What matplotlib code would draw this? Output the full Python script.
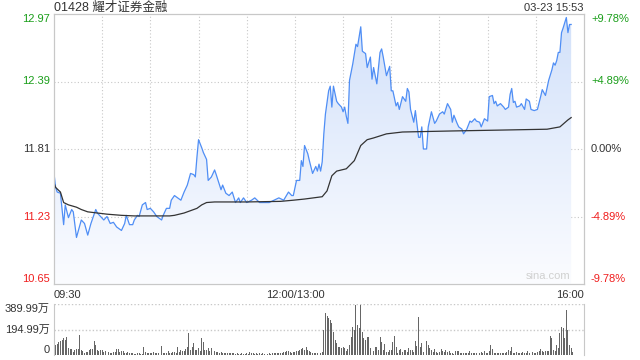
import numpy as np
import matplotlib
matplotlib.use("Agg")
import matplotlib.pyplot as plt
from matplotlib.patches import Polygon
from matplotlib.colors import LinearSegmentedColormap

plt.rcParams['font.family'] = ['Liberation Sans', 'Noto Sans CJK SC']

# trading minutes after 09:30 (lunch skipped, 150 = 12:00/13:00)
price_min = [0, 1, 2, 4, 6, 7, 9, 11, 12, 14, 17, 19, 21, 23, 26, 27, 29, 31, 33, 35,
             37, 39, 42, 44, 45, 47, 49, 50, 52, 53, 55, 57, 58, 60, 62, 64, 67, 68, 70, 72,
             73, 75, 77, 79, 81, 83, 85, 87, 88, 89, 90, 92, 93, 95, 96, 98, 100, 101, 104, 105,
             107, 109, 111, 113, 115, 116, 118, 120, 123, 125, 128, 131, 134, 137, 140, 143, 146, 148, 149, 151,
             153, 154, 155, 156, 158, 159, 161, 163, 164, 165, 166, 167, 168, 169, 171, 172, 173, 174, 176, 177,
             179, 180, 181, 182, 183, 184, 186, 188, 189, 191, 192, 194, 195, 197, 198, 199, 201, 203, 204, 205,
             207, 209, 210, 211, 213, 214, 215, 217, 219, 220, 221, 222, 224, 225, 227, 228, 229, 230, 232, 233,
             235, 237, 238, 240, 242, 243, 245, 247, 248, 249, 251, 252, 254, 255, 257, 259, 260, 262, 263, 265,
             266, 268, 270, 271, 273, 274, 275, 276, 278, 280, 281, 283, 284, 285, 286, 287, 288, 290, 291, 293,
             294, 296, 297, 299, 301, 303, 304, 306, 308, 310, 311, 312, 313, 314, 315, 316, 317, 319, 320, 321,
             322]
price = [11.60, 11.48, 11.44, 11.43, 11.16, 11.33, 11.22, 11.29, 11.27, 11.05, 11.20, 11.17, 11.07, 11.17, 11.29, 11.26, 11.23, 11.20, 11.23, 11.17,
         11.18, 11.14, 11.11, 11.17, 11.24, 11.16, 11.16, 11.20, 11.24, 11.23, 11.33, 11.35, 11.29, 11.30, 11.27, 11.23, 11.20, 11.24, 11.30, 11.30,
         11.37, 11.41, 11.39, 11.37, 11.44, 11.50, 11.60, 11.59, 11.57, 11.74, 11.89, 11.82, 11.78, 11.72, 11.54, 11.57, 11.63, 11.59, 11.46, 11.50,
         11.43, 11.41, 11.44, 11.35, 11.39, 11.35, 11.39, 11.35, 11.37, 11.39, 11.35, 11.35, 11.35, 11.37, 11.39, 11.37, 11.44, 11.41, 11.41, 11.54,
         11.54, 11.71, 11.66, 11.84, 11.77, 11.71, 11.60, 11.66, 11.62, 11.68, 11.62, 11.70, 11.94, 12.11, 12.31, 12.35, 12.17, 12.35, 12.22, 12.20,
         12.17, 12.13, 12.17, 12.09, 12.03, 12.40, 12.54, 12.71, 12.69, 12.86, 12.65, 12.63, 12.51, 12.60, 12.41, 12.51, 12.37, 12.64, 12.67, 12.60,
         12.44, 12.52, 12.31, 12.31, 12.18, 12.21, 12.15, 12.26, 12.22, 12.33, 12.30, 12.15, 12.04, 12.14, 11.91, 11.91, 12.00, 11.81, 11.81, 12.00,
         12.13, 12.03, 12.05, 12.11, 12.13, 12.11, 12.20, 12.15, 12.04, 12.10, 12.03, 12.00, 11.98, 11.94, 11.98, 12.05, 12.04, 12.07, 12.05, 12.04,
         12.00, 12.07, 12.05, 12.26, 12.27, 12.20, 12.22, 12.18, 12.20, 12.17, 12.15, 12.17, 12.28, 12.33, 12.21, 12.22, 12.17, 12.18, 12.20, 12.15,
         12.24, 12.22, 12.15, 12.14, 12.15, 12.26, 12.32, 12.27, 12.40, 12.49, 12.55, 12.53, 12.57, 12.64, 12.64, 12.81, 12.85, 12.94, 12.81, 12.88,
         12.88]

avg_min = [0, 1, 4, 6, 9, 14, 17, 21, 27, 33, 42, 50, 72, 75, 81, 85, 89, 92, 95, 100,
           110, 120, 141, 149, 156, 167, 170, 173, 176, 182, 187, 191, 195, 199, 207, 217, 248, 280, 307, 315,
           320, 322]
avg_price = [11.52, 11.48, 11.44, 11.35, 11.33, 11.31, 11.29, 11.27, 11.26, 11.25, 11.24, 11.235, 11.235, 11.24, 11.26, 11.28, 11.30, 11.33, 11.35, 11.355,
             11.355, 11.355, 11.36, 11.37, 11.38, 11.40, 11.45, 11.58, 11.62, 11.64, 11.71, 11.84, 11.89, 11.905, 11.94, 11.956, 11.965, 11.973, 11.98, 12.00,
             12.06, 12.08]

# volume per minute, 万股
volume = [70, 76, 84, 102, 110, 118, 127, 115, 140, 51, 43, 43, 25, 38, 43, 43, 153, 38, 33, 18,
          25, 25, 38, 43, 43, 110, 76, 38, 33, 38, 38, 25, 33, 20, 25, 18, 18, 25, 23, 43,
          43, 25, 33, 28, 18, 18, 25, 18, 13, 13, 8, 8, 13, 18, 8, 8, 59, 25, 18, 13,
          13, 18, 25, 13, 18, 18, 33, 69, 18, 13, 13, 28, 18, 13, 25, 25, 18, 59, 25, 38,
          28, 28, 43, 64, 166, 38, 64, 89, 38, 38, 51, 28, 127, 102, 38, 38, 51, 33, 51, 25,
          28, 23, 20, 18, 23, 18, 13, 13, 18, 13, 18, 13, 13, 8, 13, 8, 8, 13, 8, 8,
          13, 8, 23, 18, 13, 8, 13, 8, 13, 8, 13, 8, 13, 8, 13, 8, 13, 13, 18, 13,
          18, 13, 18, 20, 20, 28, 28, 20, 18, 20, 25, 28, 33, 38, 43, 51, 38, 64, 38, 28,
          23, 18, 18, 13, 13, 13, 13, 25, 191, 319, 300, 280, 268, 242, 178, 115, 89, 59, 59, 51,
          59, 56, 30, 43, 76, 140, 217, 191, 382, 229, 204, 382, 178, 127, 115, 140, 140, 51, 115, 30,
          64, 59, 38, 140, 102, 38, 84, 25, 25, 38, 38, 102, 145, 59, 18, 38, 43, 25, 38, 38,
          25, 51, 38, 38, 25, 110, 69, 293, 64, 89, 25, 107, 110, 76, 51, 38, 25, 43, 25, 18,
          25, 43, 33, 25, 38, 23, 28, 18, 13, 8, 33, 28, 30, 18, 13, 13, 13, 18, 13, 28,
          13, 18, 13, 18, 13, 18, 23, 18, 28, 18, 13, 30, 76, 43, 18, 18, 13, 13, 13, 13,
          18, 13, 25, 38, 30, 59, 13, 18, 25, 13, 18, 13, 20, 13, 18, 28, 13, 18, 23, 18,
          13, 23, 33, 43, 28, 23, 33, 28, 30, 145, 127, 38, 30, 76, 51, 166, 212, 204, 127, 344,
          191, 76, 51, 20]

y_ticks = [10.65, 11.23, 11.81, 12.39, 12.97]
y_labels = ['10.65', '11.23', '11.81', '12.39', '12.97']
pct_labels = ['-9.78%', '-4.89%', '0.00%', '+4.89%', '+9.78%']
x_ticks = [0, 150, 330]
x_labels = ['09:30', '12:00/13:00', '16:00']
vol_ticks = [0, 194.99, 389.99]
vol_labels = ['0', '194.99万', '389.99万']

GREEN = '#1a9e1a'
RED = '#f01e1e'
DARK = '#333333'
GRID = '#c8c8c8'
label_colors = [RED, RED, DARK, GREEN, GREEN]
label_va = ['bottom', 'center', 'center', 'center', 'top']

fig = plt.figure(figsize=(6.4, 3.6), dpi=100)
ax = fig.add_axes([54 / 640, 1 - 284 / 360, 530 / 640, 270 / 360])
axv = fig.add_axes([54 / 640, 1 - 355 / 360, 530 / 640, 51 / 360])

ymin, ymax = y_ticks[0], y_ticks[-1]

# gradient area under price line
verts = [(price_min[0], ymin)] + list(zip(price_min, price)) + [(price_min[-1], ymin)]
poly = Polygon(verts, closed=True, facecolor='none', edgecolor='none')
ax.add_patch(poly)
cmap = LinearSegmentedColormap.from_list('fill', ['#fbfcff', '#d2e1fa'])
grad = np.linspace(0, 1, 256).reshape(-1, 1)
im = ax.imshow(grad, aspect='auto', cmap=cmap, origin='lower',
               extent=[0, 330, ymin, ymax], zorder=1)
im.set_clip_path(poly)

ax.plot(price_min, price, color='#4f8ef5', lw=0.9, zorder=3)
ax.plot(avg_min, avg_price, color='#333333', lw=0.9, zorder=4)

ax.set_xlim(0, 330)
ax.set_ylim(ymin, ymax)

for xv in range(30, 330, 30):
    ax.axvline(xv, color=GRID, lw=0.8, ls=(0, (1, 2)), zorder=0)
for yv in y_ticks[1:-1]:
    ax.axhline(yv, color=GRID, lw=0.8, ls=(0, (1, 2)), zorder=0)

ax.set_yticks(y_ticks)
ax.set_yticklabels(y_labels, fontsize=8)
for t, c, va in zip(ax.get_yticklabels(), label_colors, label_va):
    t.set_color(c)
    t.set_va(va)
ax.tick_params(axis='y', length=0, pad=3)

ax.set_xticks(x_ticks)
ax.set_xticklabels(x_labels, fontsize=8, color=DARK)
ax.tick_params(axis='x', length=0, pad=4)
for t, ha in zip(ax.get_xticklabels(), ['left', 'center', 'right']):
    t.set_ha(ha)

ax2 = ax.twinx()
ax2.set_ylim(ymin, ymax)
ax2.set_yticks(y_ticks)
ax2.set_yticklabels(pct_labels, fontsize=8)
for t, c, va in zip(ax2.get_yticklabels(), label_colors, label_va):
    t.set_color(c)
    t.set_va(va)
ax2.tick_params(axis='y', length=0, pad=5)

for a in (ax, ax2):
    for s in a.spines.values():
        s.set_color(GRID)
        s.set_linewidth(0.8)

ax.text(0.975, 0.012, 'sina.com', transform=ax.transAxes, ha='right', va='bottom',
        fontsize=8, color='#d0d0d0', zorder=5)

fig.text(54 / 640, 1 - 8 / 360, '01428 耀才证券金融', ha='left', va='center',
         fontsize=9, color=DARK)
fig.text(584 / 640, 1 - 8 / 360, '03-23 15:53', ha='right', va='center',
         fontsize=8, color=DARK)

# volume panel
axv.bar(np.arange(len(volume)), volume, width=0.6, color='#666666', zorder=2)
axv.set_xlim(0, 330)
axv.set_ylim(0, vol_ticks[-1])
axv.set_xticks([])
axv.set_yticks(vol_ticks)
axv.set_yticklabels(vol_labels, fontsize=8, color=DARK)
for t, va in zip(axv.get_yticklabels(), ['bottom', 'center', 'top']):
    t.set_va(va)
axv.tick_params(axis='y', length=0, pad=3)
for yv in vol_ticks[1:]:
    axv.axhline(yv, color=GRID, lw=1.0, ls=(0, (1, 1.5)), zorder=0)
axv.spines['top'].set_visible(False)
axv.spines['bottom'].set_visible(False)
for s in ('left', 'right'):
    axv.spines[s].set_color(GRID)
    axv.spines[s].set_linewidth(0.8)

fig.savefig('out.png', dpi=100)
